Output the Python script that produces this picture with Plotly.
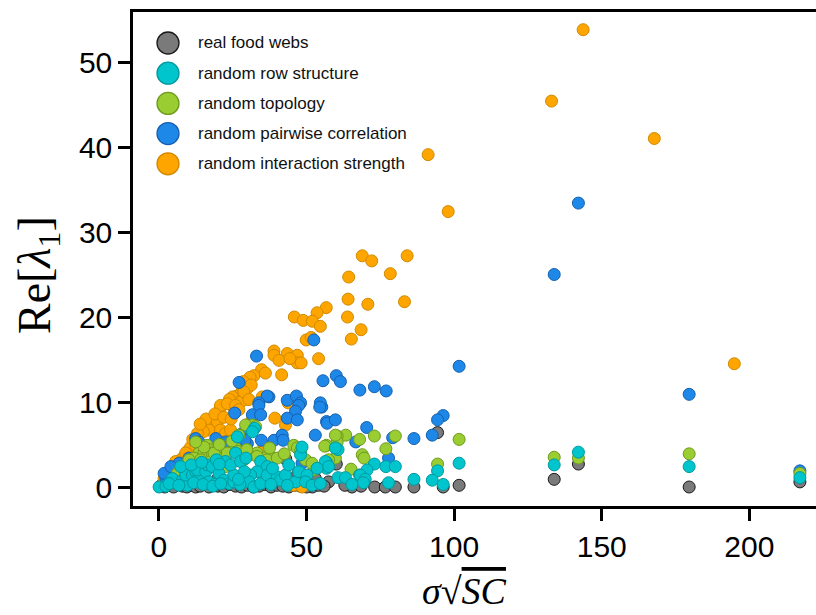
import plotly.graph_objects as go

# ---------------- data ----------------
series_names = ["real food webs", "random row structure", "random topology",
                "random pairwise correlation", "random interaction strength"]

gray_x = [133.9, 142.1, 179.6, 217.1, 101.7, 94.4, 96.3, 86.4, 73.1, 76.7, 80.1, 60.1, 43.0, 57.0,
          52.0, 57.5, 65.4, 68.5, 63.0,
          0.5, 2.0, 3.5, 5.0, 6.5, 8.0, 9.5, 11.0, 12.5, 14.0, 15.5, 17.0, 18.5, 20.0, 22.0, 24.0,
          26.0, 28.0, 30.0, 32.0, 34.0, 36.0, 38.0, 40.0, 42.0, 44.0, 46.0, 48.0, 50.0, 54.0, 56.0,
          12.0, 20.0, 30.0, 38.0, 47.0, 53.0]
gray_y = [0.9, 2.7, 0.0, 0.6, 0.2, 6.4, 0.0, 0.0, 0.0, 0.0, 0.0, 2.7, 3.3, 3.0,
          0.0, 0.6, 0.0, 0.1, 0.2,
          0.1, 0.0, 0.2, 0.0, 0.3, 0.1, 0.0, 0.2, 0.0, 0.1, 0.3, 0.0, 0.2, 0.1, 0.0, 0.3,
          0.1, 0.0, 0.2, 0.0, 0.1, 0.3, 0.0, 0.2, 0.1, 0.0, 0.2, 0.1, 0.0, 0.2, 0.1,
          0.8, 1.0, 0.9, 1.2, 1.5, 1.0]

cyan_x = [133.9, 142.1, 179.6, 217.1, 101.7, 94.4, 92.6, 96.3, 86.4, 73.0, 76.9, 80.1, 70.5, 68.0,
          77.8, 60.7, 56.8, 56.8, 26.6, 32.4, 31.7,
          0.1, 2.4, 5.7, 4.6, 8.0, 9.7, 9.1, 11.4, 12.5, 13.6, 13.1, 15.9, 16.4, 18.1, 20.4, 22.1,
          23.8, 25.4, 25.4, 22.6, 24.3, 26.0, 27.7, 7.4,
          48.0, 48.5, 59.8, 56.4, 57.5, 53.6, 34.5, 36.7, 33.3, 31.1, 30.5, 32.2, 34.5, 36.7, 40.1,
          41.2, 42.9, 46.3, 47.4, 50.2, 49.7, 51.9, 54.7,
          60.7, 63.2, 65.4, 68.2, 69.9, 69.3,
          17.0, 19.0, 27.5, 29.0, 38.5, 44.0, 19.5, 11.0,
          3.5, 6.8, 11.8, 15.0, 18.3, 21.0, 27.0, 38.0, 43.5, 14.5, 20.5, 29.5]
cyan_y = [2.6, 4.1, 2.4, 1.1, 2.8, 1.9, 0.8, 0.3, 0.9, 2.7, 2.4, 2.4, 2.0, 1.4,
          0.5, 4.4, 2.9, 2.2, 5.9, 6.9, 6.5,
          0.0, 0.1, 0.5, 1.0, 0.8, 0.2, 1.4, 1.4, 1.8, 1.2, 2.0, 1.8, 2.6, 2.4, 1.6, 0.8,
          0.4, 0.6, 1.4, 3.0, 2.6, 4.0, 3.0, 2.4,
          3.8, 4.7, 4.6, 3.0, 2.4, 2.2, 3.0, 2.4, 1.8, 1.4, 0.6, 0.0, 0.4, 1.4, 1.2,
          0.8, 1.4, 0.6, 1.8, 1.4, 0.6, 0.2, 0.4,
          1.1, 1.1, 0.3, 1.4, 0.9, 0.5,
          0.6, 0.3, 0.3, 1.8, 2.2, 2.6, 3.2, 2.6,
          0.4, 0.2, 0.5, 0.3, 0.1, 0.4, 0.9, 0.3, 0.2, 2.9, 2.7, 3.4]

green_x = [133.9, 142.1, 179.6, 217.1, 101.7, 94.4, 80.1, 73.0, 68.0, 63.3, 60.4, 60.4, 56.8, 76.9,
           68.9, 69.5, 65.1, 56.2, 31.7, 29.4, 32.8, 45.7, 46.9, 59.8, 28.8, 31.1, 33.3, 35.6,
           39.0, 59.8, 57.5, 52.5,
           14.2, 16.4, 17.0, 13.6, 15.3, 18.1, 11.9, 10.8, 14.2, 17.6, 19.8, 21.5, 23.7, 26.0,
           27.1, 8.5, 6.9, 19.3, 22.6,
           18.7, 23.2, 26.6, 15.3, 33.3, 36.7, 40.1, 48.0, 49.7, 51.9, 8.0, 6.3, 10.2,
           12.5, 20.5, 24.8, 29.8, 37.5, 42.5]
green_y = [3.5, 3.4, 3.9, 1.6, 5.6, 2.7, 6.0, 6.0, 5.6, 6.1, 6.0, 5.3, 4.9, 4.5,
           3.8, 3.4, 2.1, 4.8, 7.3, 7.3, 7.1, 4.9, 4.6, 6.1, 3.2, 3.8, 4.0, 3.4,
           3.4, 3.4, 3.2, 2.0,
           4.7, 4.9, 4.4, 4.0, 4.0, 4.0, 3.4, 2.8, 3.2, 3.0, 3.8, 3.4, 4.0, 4.6,
           6.1, 2.4, 2.0, 2.4, 2.4,
           4.0, 4.0, 4.2, 4.7, 3.6, 3.2, 3.4, 4.2, 3.2, 2.8, 2.0, 1.6, 3.2,
           5.3, 5.0, 5.4, 4.4, 4.6, 3.9]

blue_x = [142.1, 133.9, 179.6, 217.1, 101.7, 96.3, 94.4, 92.6, 86.4, 79.2, 77.0, 73.0, 68.1, 60.1,
          61.5, 55.6, 55.2, 56.8, 70.4, 66.7, 77.8, 52.5, 33.1, 27.2, 37.3, 36.7, 43.5, 46.6,
          33.9, 48.0, 54.7, 33.9, 31.7, 34.5, 25.7, 47.4, 46.3, 43.5, 46.9, 54.5, 57.0,
          59.8, 53.0, 39.0, 41.8, 30.0, 28.8, 48.5,
          12.5, 13.6, 19.3, 22.6, 28.3, 26.0, 10.2, 4.1, 2.4, 6.9, 1.8, 4.1, 29.2, 34.7, 42.1]
blue_y = [33.4, 25.0, 10.9, 1.9, 14.2, 8.4, 7.9, 6.1, 5.7, 5.8, 11.3, 11.8, 11.4, 13.1,
          12.4, 12.5, 9.4, 7.7, 7.0, 5.3, 3.4, 17.3, 15.4, 12.3, 10.6, 10.7, 10.2, 10.7,
          9.9, 9.9, 9.9, 9.6, 8.5, 8.5, 8.7, 9.6, 8.9, 8.1, 7.9, 9.4, 7.5,
          7.9, 6.1, 5.5, 6.1, 5.1, 4.7, 2.8,
          5.7, 5.3, 5.7, 5.3, 6.3, 5.3, 3.4, 1.2, 1.0, 2.8, 1.6, 2.4, 5.5, 5.5, 5.5]

orange_x = [143.7, 133.0, 167.8, 91.2, 98.0, 194.9, 68.9, 72.1, 84.1, 64.3, 78.4, 64.1, 70.8, 83.2,
            63.9, 68.5, 65.2, 56.7, 53.6, 45.9, 48.9, 52.0, 54.7, 49.9, 51.6, 39.0, 39.0, 43.5,
            46.9, 46.9, 48.2, 40.7, 44.4, 54.1, 41.6, 34.8, 32.2, 30.9, 36.1, 28.3, 30.0, 26.4,
            25.0, 23.9, 20.9, 25.4, 28.3, 30.2, 39.3, 18.7, 17.0, 15.1, 13.1, 19.8, 20.9, 22.6,
            24.3, 8.6, 9.7, 7.4, 10.8, 12.5, 43.8, 42.9, 35.6, 36.1, 45.7, 48.5, 27.7, 20.9,
            23.2, 26.0, 27.1, 9.1, 5.7, 1.8, 3.5, 35.0, 28.6, 31.3, 28.8, 30.5,
            16.0, 19.0, 22.0, 14.0, 11.5, 24.5, 31.5]
orange_y = [53.8, 45.4, 41.0, 39.1, 32.4, 14.5, 27.2, 26.6, 27.2, 24.7, 25.1, 22.1, 21.5, 21.8,
            20.0, 18.5, 17.4, 21.1, 20.5, 20.0, 19.6, 19.5, 18.9, 17.3, 17.6, 16.0, 15.5, 15.7,
            15.5, 14.6, 14.6, 14.9, 15.1, 15.1, 13.2, 13.8, 13.1, 12.9, 13.4, 11.4, 11.6, 10.7,
            10.6, 10.3, 9.4, 9.3, 10.3, 10.3, 8.1, 7.3, 6.7, 6.5, 6.3, 7.7, 6.7, 6.3,
            6.7, 3.6, 4.2, 3.2, 4.7, 4.9, 9.9, 7.3, 4.9, 0.8, 0.2, 0.0, 10.0, 9.6,
            9.8, 9.6, 9.1, 4.0, 3.0, 1.0, 1.4, 10.6, 12.4, 12.0, 11.2, 10.3,
            8.0, 8.6, 8.2, 7.4, 5.6, 8.0, 7.8]

x_ticks = [0, 50, 100, 150, 200]
y_ticks = [0, 10, 20, 30, 40, 50]

# ---------------- styles ----------------
fills = ["#7A7A7A", "#00C5CD", "#9ACD32", "#1E88E8", "#FFA500"]
edges = ["#1A1A1A", "#00999F", "#6E9A1E", "#1560B0", "#D08A00"]
xs = [gray_x, cyan_x, green_x, blue_x, orange_x]
ys = [gray_y, cyan_y, green_y, blue_y, orange_y]
draw_order = [0, 4, 3, 2, 1]

fig = go.Figure()
for i in draw_order:
    fig.add_trace(go.Scatter(
        x=xs[i], y=ys[i], mode="markers", name=series_names[i], showlegend=False,
        marker=dict(size=12, color=fills[i], line=dict(color=edges[i], width=1)),
    ))

L, T, B, W, H = 133, 12, 506, 816, 615
plot_w = W - L
plot_h = B - T

def px_to_paper(px, py):
    return (px - L) / plot_w, (B - py) / plot_h

# custom legend (large symbols)
shapes = []
annotations = []
for k, name in enumerate(series_names):
    cy = 43 + 30.2 * k
    sx, sy = px_to_paper(168, cy)
    shapes.append(dict(type="circle", xref="paper", yref="paper", xsizemode="pixel",
                       ysizemode="pixel", xanchor=sx, yanchor=sy, x0=-11, x1=11, y0=-11, y1=11,
                       fillcolor=fills[k], line=dict(color=edges[k], width=1.3)))
    tx, ty = px_to_paper(196, cy)
    annotations.append(dict(x=tx, y=ty, xref="paper", yref="paper", text=name, showarrow=False,
                            xanchor="left", yanchor="middle",
                            font=dict(family="Liberation Sans, Arial", size=17, color="#111")))

# axis titles
ax, ay = px_to_paper(38, 275)
annotations.append(dict(x=ax, y=ay, xref="paper", yref="paper", showarrow=False,
                        text="Re[<i>λ</i><sub>1</sub>]", textangle=-90,
                        xanchor="center", yanchor="middle",
                        font=dict(family="Liberation Serif, Times New Roman", size=46, color="black")))
bx, by = px_to_paper(464, 591)
annotations.append(dict(x=bx, y=by, xref="paper", yref="paper", showarrow=False,
                        text="<i>σ</i>√<span style='text-decoration:overline'><i>SC</i></span>",
                        xanchor="center", yanchor="middle",
                        font=dict(family="Liberation Serif, Times New Roman", size=38, color="black")))

x0_px, x_scale = 158.8, 2.953
y0_px, y_scale = 487.0, 8.5
xr = [(L - x0_px) / x_scale, (W - x0_px) / x_scale]
yr = [(y0_px - B) / y_scale, (y0_px - T) / y_scale]

fig.update_layout(
    width=W, height=H,
    margin=dict(l=L, r=0, t=T, b=H - B, pad=0),
    paper_bgcolor="white", plot_bgcolor="white",
    showlegend=False,
    shapes=shapes, annotations=annotations,
    xaxis=dict(range=xr, tickvals=x_ticks, ticks="outside", ticklen=12, tickwidth=2.5,
               tickcolor="black", showline=True, linewidth=2.5, linecolor="black", mirror=True,
               showgrid=False, zeroline=False,
               tickfont=dict(family="Liberation Sans, Arial", size=30, color="black")),
    yaxis=dict(range=yr, tickvals=y_ticks, ticks="outside", ticklen=12, tickwidth=2.5,
               tickcolor="black", showline=True, linewidth=2.5, linecolor="black",
               showgrid=False, zeroline=False,
               tickfont=dict(family="Liberation Sans, Arial", size=30, color="black")),
)

fig.write_html("out.html")
